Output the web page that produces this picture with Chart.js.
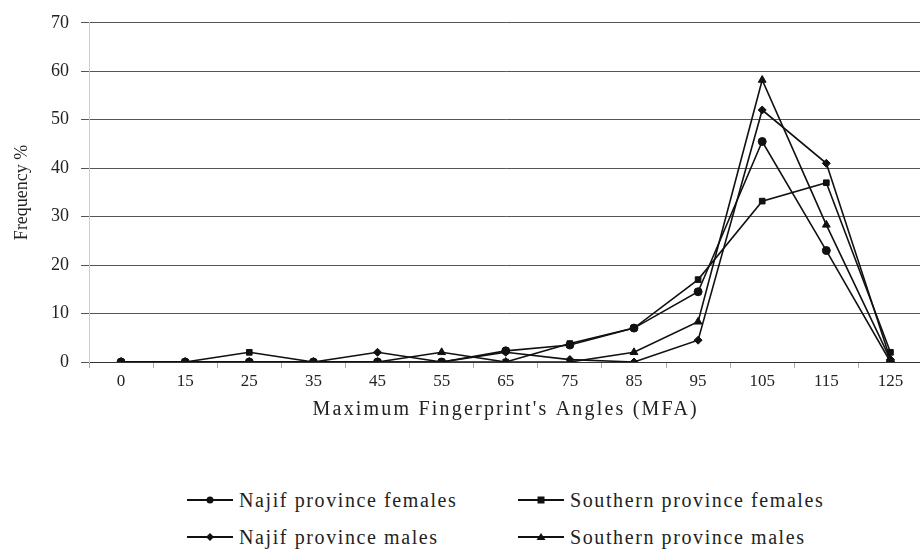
<!DOCTYPE html>
<html>
<head>
<meta charset="utf-8">
<script src="https://cdn.jsdelivr.net/npm/chart.js@4"></script>
<style>
  body { margin: 0; width: 920px; height: 553px; overflow: hidden; background: #fff; position: relative; }
  #wrap { position: absolute; left: 0; top: 0; width: 928px; height: 430px; }
  .legend { position: absolute; font-family: "Liberation Serif", "Times New Roman", serif; font-size: 20px; letter-spacing: 1.6px; color: #222; display: flex; align-items: center; white-space: nowrap; }
  .legend svg { margin-right: 5px; }
</style>
</head>
<body>
<div id="wrap"><canvas id="mfaChart" width="928" height="430"></canvas></div>
<div id="legendBox"></div>
<script>
  const categories = ['0', '15', '25', '35', '45', '55', '65', '75', '85', '95', '105', '115', '125'];
  const najifFemales = [0, 0, 0, 0, 0, 0, 2.3, 3.5, 7, 14.5, 45.5, 23, 0];
  const southernFemales = [0, 0, 2, 0, 0, 0, 0, 3.8, 7, 17, 33.2, 37, 2];
  const najifMales = [0, 0, 0, 0, 2, 0, 2, 0.5, 0, 4.5, 52, 41, 0.5];
  const southernMales = [0, 0, 0, 0, 0, 2, 0, 0, 2, 8.3, 58.2, 28.3, 0.5];
  const yMin = 0, yMax = 70, yStep = 10;

  const serif = '"Liberation Serif", "Times New Roman", serif';

  function series(label, data, style, radius) {
    return {
      label: label,
      data: data,
      borderColor: '#111',
      backgroundColor: '#111',
      borderWidth: 1.6,
      pointStyle: style,
      pointRadius: radius,
      pointBorderWidth: 1,
      tension: 0,
      fill: false
    };
  }

  // the axis title in the picture is spread out a bit
  const spacedTitle = {
    id: 'spacedTitle',
    afterLayout(chart) {
      const s = chart.scales.x;
      if (s._spaced) return;
      const orig = s.drawTitle;
      s.drawTitle = function () {
        this.ctx.save();
        this.ctx.letterSpacing = '2.2px';
        orig.call(this);
        this.ctx.restore();
      };
      s._spaced = true;
    }
  };

  const ctx = document.getElementById('mfaChart').getContext('2d');
  const chart = new Chart(ctx, {
    type: 'line',
    data: {
      labels: categories,
      datasets: [
        series('Najif province females', najifFemales, 'circle', 4),
        series('Southern province females', southernFemales, 'rect', 4),
        series('Najif province males', najifMales, 'rectRot', 4),
        series('Southern province males', southernMales, 'triangle', 4.5)
      ]
    },
    options: {
      responsive: false,
      devicePixelRatio: 1,
      animation: false,
      layout: { padding: { top: 17, left: 0, right: 0, bottom: 0 } },
      plugins: {
        legend: { display: false },
        tooltip: { enabled: false }
      },
      scales: {
        x: {
          offset: true,
          afterFit: (s) => { s.height = 68; },
          grid: { offset: true, drawOnChartArea: false, drawTicks: true, tickLength: 6, color: '#aaa' },
          border: { color: '#333', width: 1 },
          ticks: { color: '#222', padding: 3, font: { family: serif, size: 17 } },
          title: {
            display: true,
            text: "Maximum Fingerprint's Angles (MFA)",
            color: '#222',
            padding: { top: 4, bottom: 8 },
            font: { family: serif, size: 20 }
          }
        },
        y: {
          min: yMin,
          max: yMax,
          afterFit: (s) => { s.width = 89; },
          grid: { color: '#555', lineWidth: 1, tickLength: 8, drawTicks: true },
          border: { color: '#ccc', width: 1 },
          ticks: { stepSize: yStep, color: '#222', padding: 12, font: { family: serif, size: 18 } },
          title: {
            display: true,
            text: 'Frequency %',
            color: '#222',
            padding: { top: 11, bottom: 0 },
            font: { family: serif, size: 18 }
          }
        }
      }
    },
    plugins: [spacedTitle]
  });

  // legend in two columns under the chart, like the original
  const legendPos = [
    { x: 186, y: 488 }, { x: 517, y: 488 },
    { x: 186, y: 525 }, { x: 517, y: 525 }
  ];
  const order = [0, 1, 2, 3];
  const box = document.getElementById('legendBox');

  function markerSvg(style) {
    let mark = '';
    if (style === 'circle') mark = '<circle cx="24" cy="12" r="3.5" fill="#111"/>';
    else if (style === 'rect') mark = '<rect x="20.5" y="8.5" width="7" height="7" fill="#111"/>';
    else if (style === 'rectRot') mark = '<polygon points="24,8 28,12 24,16 20,12" fill="#111"/>';
    else mark = '<polygon points="24,8 28.5,15 19.5,15" fill="#111"/>';
    return '<svg width="48" height="24"><line x1="1" y1="12" x2="47" y2="12" stroke="#111" stroke-width="1.8"/>' + mark + '</svg>';
  }

  order.forEach((i, k) => {
    const ds = chart.data.datasets[i];
    const el = document.createElement('div');
    el.className = 'legend';
    el.style.left = legendPos[k].x + 'px';
    el.style.top = legendPos[k].y + 'px';
    el.innerHTML = markerSvg(ds.pointStyle) + '<span>' + ds.label + '</span>';
    box.appendChild(el);
  });
</script>
</body>
</html>
